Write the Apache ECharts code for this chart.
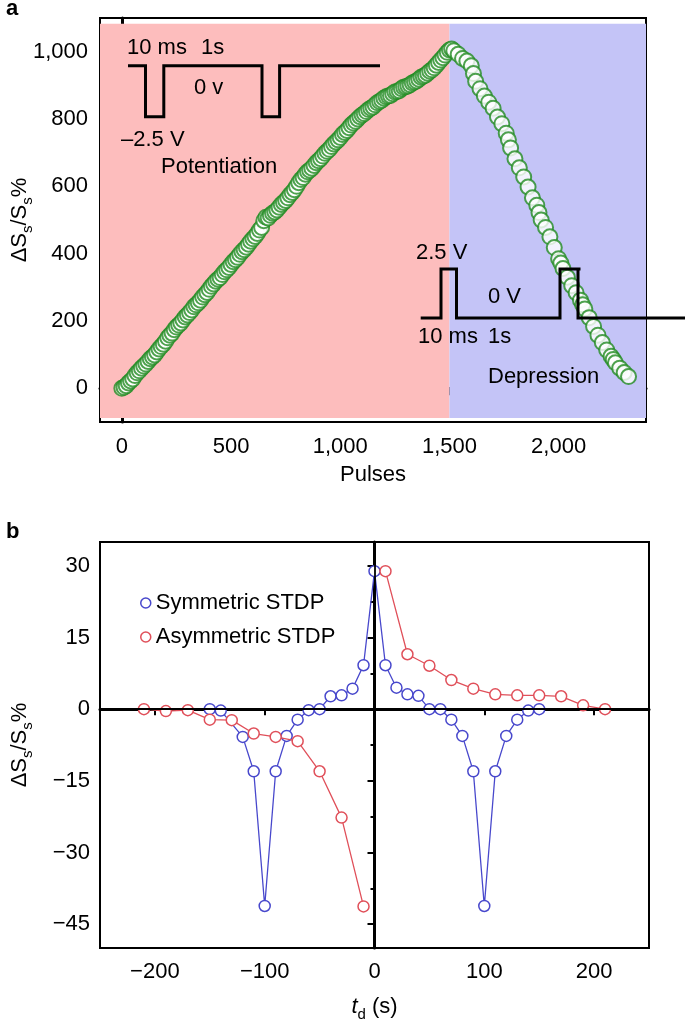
<!DOCTYPE html>
<html>
<head>
<meta charset="utf-8">
<script src="https://cdn.jsdelivr.net/npm/echarts@6.0.0/dist/echarts.min.js"></script>
<style>
html,body{margin:0;padding:0;background:#fff;}
#chart{width:685px;height:1023px;}
</style>
</head>
<body>
<div id="chart"></div>
<script>
// ---------- Panel a data (read along the band of markers) ----------
const potPulses = [0,20,40,60,80,100,120,140,160,180,200,220,240,260,280,300,320,340,360,380,400,420,440,460,480,500,520,540,560,580,600,620,640,660,680,700,720,740,760,780,800,820,840,860,880,900,920,940,960,980,1000,1020,1040,1060,1080,1100,1120,1140,1160,1180,1200,1220,1240,1260,1280,1300,1320,1340,1360,1380,1400,1420,1440,1460,1480,1500];
const potValues = [0,8,22,38,52,66,80,93,108,124,140,158,174,188,203,218,233,248,262,278,294,310,324,338,352,368,382,398,412,428,444,460,478,508,514,524,538,552,566,582,600,620,636,648,662,676,690,704,718,732,745,760,774,788,800,812,822,832,842,852,862,868,875,882,890,896,902,910,918,927,936,946,960,975,990,1005];
const potPulsesB = [10,30,50,70,90,110,130,150,170,190,210,230,250,270,290,310,330,350,370,390,410,430,450,470,490,510,530,550,570,590,610,630,650,670,690,710,730,750,770,790,810,830,850,870,890,910,930,950,970,990,1010,1030,1050,1070,1090,1110,1130,1150,1170,1190,1210,1230,1250,1270,1290,1310,1330,1350,1370,1390,1410,1430,1450,1470,1490];
const potValuesB = [3,16,28,46,60,72,88,99,117,131,150,164,182,194,212,225,242,254,271,285,303,318,329,346,359,376,389,406,419,437,451,470,498,506,520,530,546,558,575,590,611,626,643,654,670,682,698,710,726,738,754,766,782,793,807,816,828,836,848,856,866,870,880,884,894,898,907,913,924,930,942,952,968,982,998];
const depPulses = [1510,1520,1540,1560,1580,1600,1610,1620,1640,1660,1680,1700,1720,1740,1760,1770,1780,1800,1820,1840,1860,1880,1900,1910,1920,1940,1960,1980,2000,2010,2020,2040,2060,2080,2100,2110,2120,2140,2160,2180,2200,2220,2240,2250,2260,2280,2300,2320];
const depValues = [1008,1003,992,980,972,958,935,912,890,868,850,832,806,786,758,738,714,682,655,628,598,566,544,522,500,478,450,418,385,372,356,330,305,284,262,248,236,210,184,158,136,114,95,86,76,60,47,35];
const aYLabels = [0,200,400,600,800,1000];
const aYMinor = [100,300,500,700,900];
const aXLabels = [0,500,1000,1500,2000];
const aXMinor = [250,750,1250,1750,2250];

// ---------- Panel b data ----------
const symX = [-150,-140,-120,-110,-100,-90,-80,-70,-60,-50,-40,-30,-20,-10,0,10,20,30,40,50,60,70,80,90,100,110,120,130,140,150];
const symY = [0,-0.3,-5.8,-13,-41.2,-13,-5.6,-2.2,-0.2,0,2.7,2.9,4.3,9.2,28.9,9.2,4.5,3.1,2.8,0,0,-2.2,-5.6,-13,-41.2,-13,-5.6,-2.2,-0.3,0];
const asymNegX = [-210,-190,-170,-150,-130,-110,-90,-70,-50,-30,-10];
const asymNegY = [0,-0.4,-0.2,-2.2,-2.3,-5.1,-5.8,-6.7,-13,-22.7,-41.3];
const asymPosX = [10,30,50,70,90,110,130,150,170,190,210];
const asymPosY = [28.9,11.5,9.1,6.1,4.3,3.1,2.9,2.9,2.7,0.8,0];
const bYLabels = [-45,-30,-15,0,15,30];
const bYMinor = [-37.5,-22.5,-7.5,7.5,22.5];
const bXLabels = [-200,-100,0,100,200];
const bXMinor = [-250,-150,-50,50,150,250];

const FONT = '"Liberation Sans", Arial, Helvetica, sans-serif';
const GREEN = '#228b22';
const PINK = '#fdbdbd';
const LAV = '#c4c4f7';
const BLUE = '#4848cc';
const RED = '#e0505a';

function zip(xs, ys){ return xs.map((x,i)=>[x, ys[i]]); }
function fmtComma(v){ return String(v).replace(/\B(?=(\d{3})+(?!\d))/g, ','); }
function fmtMinus(v){ return v < 0 ? '\u2212' + Math.abs(v) : String(v); }

const chart = echarts.init(document.getElementById('chart'), null, {renderer:'canvas'});

const axisLineMain = {show:true, lineStyle:{color:'#000', width:3}};
const labelStyle = {color:'#000', fontSize:22, fontFamily:FONT};
const nameRichY = {
  n:{fontSize:22, fontFamily:FONT, color:'#000', lineHeight:30},
  s:{fontSize:15, fontFamily:FONT, color:'#000', lineHeight:30, verticalAlign:'bottom'}
};

const aPoints = zip(potPulses, potValues).concat(zip(potPulsesB, potValuesB))
  .sort((p,q)=>p[0]-q[0]).concat(zip(depPulses, depValues));

const option = {
  animation:false,
  backgroundColor:'#fff',
  grid:[
    {left:100, top:18, width:546, height:404, show:true, borderColor:'#000', borderWidth:2,
     backgroundColor:'transparent', containLabel:false, outerBoundsMode:'none'},
    {left:100, top:542, width:549, height:406, show:true, borderColor:'#000', borderWidth:2,
     backgroundColor:'transparent', containLabel:false, outerBoundsMode:'none'}
  ],
  xAxis:[
    {gridIndex:0, type:'value', min:-100, max:2400, position:'bottom',
     axisLine:axisLineMain, splitLine:{show:false},
     axisTick:{show:true, length:7, lineStyle:{color:'#000', width:2}, customValues:aXLabels},
     axisLabel:Object.assign({margin:14, customValues:aXLabels, formatter:fmtComma}, labelStyle),
     name:'Pulses', nameLocation:'middle', nameGap:42, nameMoveOverlap:false, nameTextStyle:labelStyle},
    {gridIndex:0, type:'value', min:-100, max:2400, position:'bottom', offset:0,
     axisLine:{show:false}, splitLine:{show:false}, axisLabel:{show:false},
     axisTick:{show:true, length:5, lineStyle:{color:'#000', width:2}, customValues:aXMinor}},
    {gridIndex:1, type:'value', min:-250, max:250, position:'bottom',
     axisLine:axisLineMain, splitLine:{show:false},
     axisTick:{show:true, length:6, lineStyle:{color:'#000', width:2}, customValues:bXLabels},
     axisLabel:Object.assign({margin:13, customValues:bXLabels, formatter:fmtMinus}, labelStyle),
     name:'{i|t}{s|d}{n| (s)}', nameLocation:'middle', nameGap:44, nameMoveOverlap:false,
     nameTextStyle:{rich:{
       i:{fontSize:22, fontFamily:FONT, fontStyle:'italic', color:'#000', lineHeight:30},
       n:{fontSize:22, fontFamily:FONT, color:'#000', lineHeight:30},
       s:{fontSize:15, fontFamily:FONT, color:'#000', lineHeight:30, verticalAlign:'bottom'}}}},
    {gridIndex:1, type:'value', min:-250, max:250, position:'bottom', offset:0,
     axisLine:{show:false}, splitLine:{show:false}, axisLabel:{show:false},
     axisTick:{show:true, length:5, lineStyle:{color:'#000', width:2}, customValues:bXMinor}}
  ],
  yAxis:[
    {gridIndex:0, type:'value', min:-100, max:1100, position:'left',
     axisLine:axisLineMain, splitLine:{show:false},
     axisTick:{show:true, length:7, lineStyle:{color:'#000', width:2}, customValues:aYLabels},
     axisLabel:Object.assign({margin:12, customValues:aYLabels, formatter:fmtComma}, labelStyle),
     name:'{n|\u0394S}{s|s}{n|/S}{s|s}{n|%}', nameLocation:'middle', nameGap:65, nameRotate:90,
     nameMoveOverlap:false, nameTextStyle:{rich:nameRichY}},
    {gridIndex:0, type:'value', min:-100, max:1100, position:'left', offset:0,
     axisLine:{show:false}, splitLine:{show:false}, axisLabel:{show:false},
     axisTick:{show:true, length:4, lineStyle:{color:'#000', width:2}, customValues:aYMinor}},
    {gridIndex:1, type:'value', min:-50, max:35, position:'left',
     axisLine:axisLineMain, splitLine:{show:false},
     axisTick:{show:true, length:7, lineStyle:{color:'#000', width:2}, customValues:bYLabels},
     axisLabel:Object.assign({margin:10, customValues:bYLabels, formatter:fmtMinus}, labelStyle),
     name:'{n|\u0394S}{s|s}{n|/S}{s|s}{n|%}', nameLocation:'middle', nameGap:65, nameRotate:90,
     nameMoveOverlap:false, nameTextStyle:{rich:nameRichY}},
    {gridIndex:1, type:'value', min:-50, max:35, position:'left', offset:0,
     axisLine:{show:false}, splitLine:{show:false}, axisLabel:{show:false},
     axisTick:{show:true, length:4, lineStyle:{color:'#000', width:2}, customValues:bYMinor}}
  ],
  legend:{
    orient:'vertical', left:135, top:587, itemWidth:10, itemHeight:10, itemGap:12,
    textStyle:{fontSize:22, fontFamily:FONT, color:'#000', lineHeight:22},
    data:[
      {name:'Symmetric STDP', icon:'circle', itemStyle:{color:'#fff', borderColor:BLUE, borderWidth:1.5}},
      {name:'Asymmetric STDP', icon:'circle', itemStyle:{color:'#fff', borderColor:RED, borderWidth:1.5}}
    ]
  },
  series:[
    {type:'scatter', name:'pot', xAxisIndex:0, yAxisIndex:0, symbol:'circle', symbolSize:15, z:3,
     itemStyle:{color:'#fff', borderColor:GREEN, borderWidth:2},
     data:aPoints,
     markArea:{silent:true, z:1, data:[
       [{xAxis:-100, yAxis:-88, itemStyle:{color:PINK}}, {xAxis:1500, yAxis:1083}],
       [{xAxis:1500, yAxis:-88, itemStyle:{color:LAV}}, {xAxis:2400, yAxis:1083}]
     ]}},
    {type:'line', name:'zero', xAxisIndex:2, yAxisIndex:2, data:[], z:1,
     markLine:{silent:true, symbol:'none', label:{show:false},
       lineStyle:{color:'#000', width:1.8, type:'solid'},
       data:[{yAxis:0},{xAxis:0}]}},
    {type:'line', name:'Symmetric STDP', xAxisIndex:2, yAxisIndex:2, z:3,
     symbol:'circle', symbolSize:11, showAllSymbol:true,
     lineStyle:{color:BLUE, width:1.3},
     itemStyle:{color:'#fff', borderColor:BLUE, borderWidth:1.5},
     data:zip(symX, symY)},
    {type:'line', name:'Asymmetric STDP', xAxisIndex:2, yAxisIndex:2, z:4,
     symbol:'circle', symbolSize:11, showAllSymbol:true,
     lineStyle:{color:RED, width:1.3},
     itemStyle:{color:'#fff', borderColor:RED, borderWidth:1.5},
     data:zip(asymNegX, asymNegY)},
    {type:'line', name:'Asymmetric STDP', xAxisIndex:2, yAxisIndex:2, z:4,
     symbol:'circle', symbolSize:11, showAllSymbol:true,
     lineStyle:{color:RED, width:1.3},
     itemStyle:{color:'#fff', borderColor:RED, borderWidth:1.5},
     data:zip(asymPosX, asymPosY)}
  ],
  graphic:[]
};

function txt(text, x, y, opts){
  opts = opts || {};
  return {type:'text', z:100, silent:true,
    style:Object.assign({text:text, x:x, y:y, fill:'#000',
      font:(opts.bold?'bold ':'') + (opts.size||22) + 'px ' + FONT,
      textAlign:'left', textVerticalAlign:'middle', align:'left', verticalAlign:'middle'}, opts.style||{})};
}
function poly(points){
  return {type:'polyline', z:100, silent:true, shape:{points:points},
    style:{stroke:'#000', lineWidth:3, fill:null}};
}

option.graphic = [
  txt('a', 6, 9, {bold:true, size:22}),
  txt('b', 6, 532, {bold:true, size:22}),
  poly([[128,65.7],[145.5,65.7],[145.5,116.7],[163.8,116.7],[163.8,65.7],[262,65.7],[262,116.7],[279.6,116.7],[279.6,65.7],[380,65.7]]),
  txt('10 ms', 127, 48),
  txt('1s', 201, 48),
  txt('0 v', 194, 88),
  txt('\u20132.5 V', 121, 140),
  txt('Potentiation', 161, 167),
  poly([[420.7,318],[441,318],[441,269],[458,269]]),
  poly([[456.5,269],[456.5,318],[560,318],[560,269],[580.5,269]]),
  poly([[578,269],[578,318],[685,318]]),
  txt('2.5 V', 416, 253),
  txt('0 V', 488, 297),
  txt('10 ms', 418, 337),
  txt('1s', 488, 337),
  txt('Depression', 488, 377)
];

chart.setOption(option);
</script>
</body>
</html>
